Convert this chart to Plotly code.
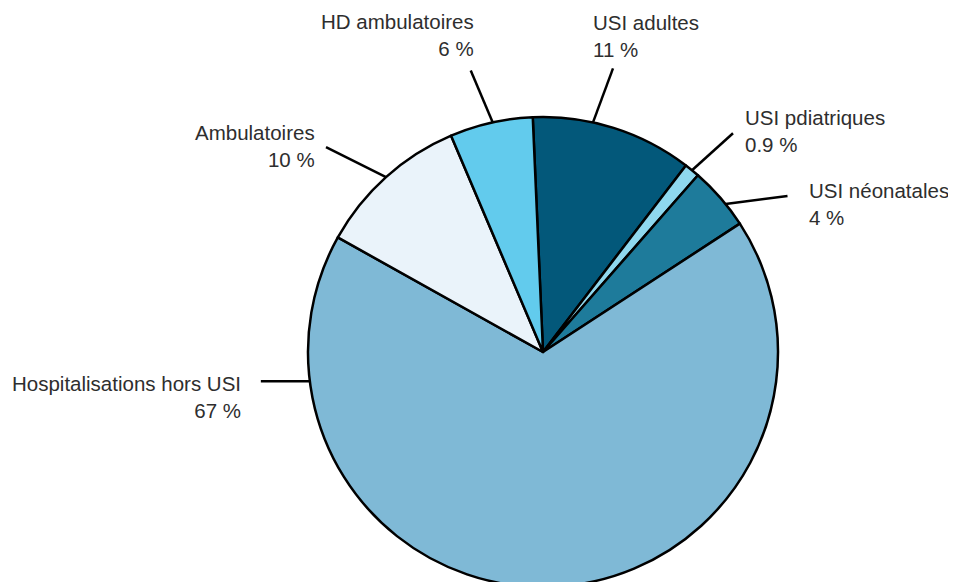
import math
import plotly.graph_objects as go

# ---- data ----
categories = ["USI adultes", "USI pdiatriques", "USI néonatales",
              "Hospitalisations hors USI", "Ambulatoires", "HD ambulatoires"]
values = [11.1, 1.05, 4.35, 67.3, 10.5, 5.7]
pct_labels = ["11 %", "0.9 %", "4 %", "67 %", "10 %", "6 %"]
colors = ["#03587a", "#8fd8ee", "#1e7b9b", "#7fb9d6", "#eaf3fa", "#62cbed"]

# ---- layout geometry (pixels, page space) ----
W, H = 956, 582
OFF = 8  # default page body margin in the exported html
cx, cy, r = 543, 352, 235
start_angle = -2.5  # degrees clockwise from 12 o'clock

# label placement: fraction along slice for leader start, leader vector, text offset
leader_frac = [0.37, 0.5, 0.62, 0.85, 0.5, 0.52]
leader_vec = [(20, -54), (41, -37), (62, -8), (-49, 0), (-60, -30), (-22, -52)]
text_off = [(-22, -32), (10, -2), (20, 8), (-18, 16), (-9, -1), (5, -35)]
text_side = ["left", "left", "left", "right", "right", "right"]


def px(x):
    return (x - OFF) / W


def py(y):
    return 1 - (y - OFF) / H


fig = go.Figure(go.Pie(
    labels=categories,
    values=values,
    sort=False,
    direction="clockwise",
    rotation=start_angle,
    marker=dict(colors=colors, line=dict(color="black", width=2.5)),
    textinfo="none",
    hoverinfo="label+percent",
    showlegend=False,
    domain=dict(x=[px(cx - r), px(cx + r)], y=[py(cy + r), py(cy - r)]),
))

total = sum(values)
acc = start_angle
shapes = []
annotations = []
for i, v in enumerate(values):
    span = v / total * 360
    a = math.radians(acc + span * leader_frac[i])
    acc += span
    x0 = cx + r * math.sin(a)
    y0 = cy - r * math.cos(a)
    x1 = x0 + leader_vec[i][0]
    y1 = y0 + leader_vec[i][1]
    shapes.append(dict(type="line", xref="paper", yref="paper",
                       x0=px(x0), y0=py(y0), x1=px(x1), y1=py(y1),
                       line=dict(color="black", width=2.5)))
    annotations.append(dict(
        xref="paper", yref="paper",
        x=px(x1 + text_off[i][0]), y=py(y1 + text_off[i][1]),
        text=f"{categories[i]}<br>{pct_labels[i]}",
        showarrow=False, xanchor=text_side[i], yanchor="middle",
        align=text_side[i],
        font=dict(family="Liberation Sans, Arial, sans-serif", size=20.5, color="#2e2e2e"),
    ))

fig.update_layout(
    width=W, height=H,
    margin=dict(l=0, r=0, t=0, b=0),
    paper_bgcolor="white",
    plot_bgcolor="white",
    shapes=shapes,
    annotations=annotations,
)

fig.write_html("out.html")
